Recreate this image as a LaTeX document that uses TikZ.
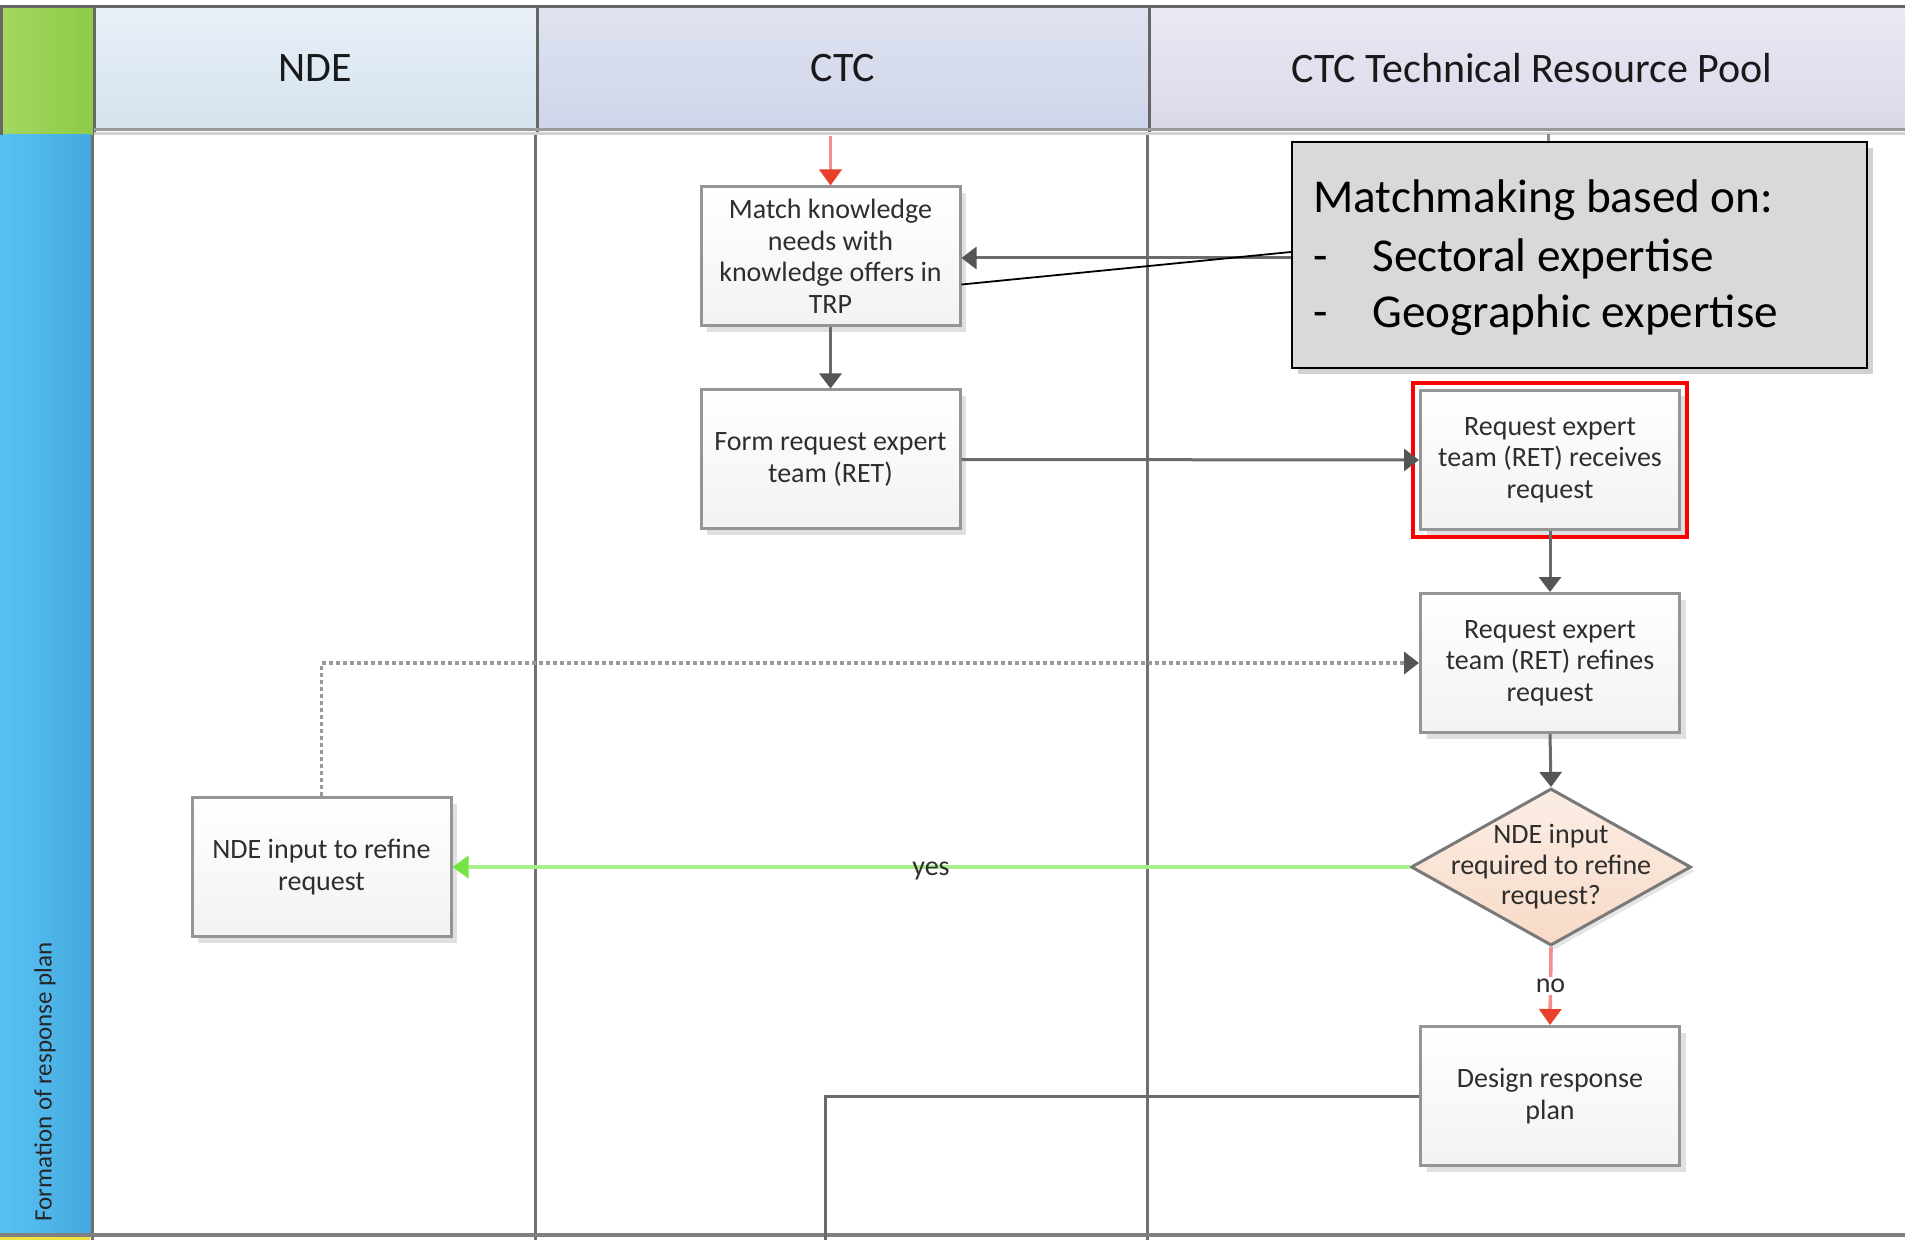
\documentclass[tikz,border=0pt]{standalone}
\usepackage{fontspec}
\setmainfont{Carlito}
\usetikzlibrary{arrows.meta,shapes.geometric,shadows,calc}
\definecolor{hdrline}{HTML}{666666}
\definecolor{laneline}{HTML}{707070}
\definecolor{boxgray}{HTML}{959595}
\definecolor{conngray}{HTML}{6A6A6A}
\definecolor{tipgray}{HTML}{555555}
\definecolor{redline}{HTML}{F29090}
\definecolor{redtip}{HTML}{E8402A}
\definecolor{greenline}{HTML}{A8EE8C}
\definecolor{greentip}{HTML}{74E444}
\definecolor{txtcol}{HTML}{2E2E2E}
\definecolor{peachtop}{HTML}{FBEEE5}
\definecolor{peachbot}{HTML}{F8DAC6}
\definecolor{greenA}{HTML}{A4D760}
\definecolor{greenB}{HTML}{8ECB46}
\definecolor{ndeA}{HTML}{E9F0F8}
\definecolor{ndeB}{HTML}{D4E2EE}
\definecolor{ctcA}{HTML}{DFE3F1}
\definecolor{ctcB}{HTML}{CFD5E9}
\definecolor{poolA}{HTML}{ECE9F4}
\definecolor{poolB}{HTML}{DAD7E9}
\definecolor{blueA}{HTML}{58C2F2}
\definecolor{blueB}{HTML}{45A9DF}
\definecolor{yell}{HTML}{F0E245}
\begin{document}
\begin{tikzpicture}[x=0.5pt,y=-0.5pt,
  procbox/.style={draw=boxgray, line width=1.5pt, top color=white, bottom color=black!5,
    minimum width=129.5pt, minimum height=69.5pt, align=center, inner sep=2pt,
    font=\fontsize{14}{15.75}\selectfont, text=txtcol,
    drop shadow={shadow xshift=3pt, shadow yshift=-3pt, fill=black!12, opacity=1}},
  decision/.style={diamond, draw=conngray!90, line width=1.5pt, top color=peachtop, bottom color=peachbot,
    minimum width=140pt, minimum height=78.5pt, inner sep=0pt,
    drop shadow={shadow xshift=2pt, shadow yshift=-2pt, fill=black!10, opacity=1}},
  dectext/.style={align=center, font=\fontsize{14}{15.3}\selectfont, text=txtcol},
  callout/.style={draw=black, line width=1.2pt, fill=black!15, minimum width=287.5pt, minimum height=113pt,
    drop shadow={shadow xshift=3pt, shadow yshift=-3pt, fill=black!18, opacity=1}},
  calltext/.style={anchor=base west, font=\fontsize{23.6}{28}\selectfont, text=black, inner sep=0pt},
  hdrtext/.style={font=\fontsize{21}{24}\selectfont, text=black!90},
  conn/.style={draw=conngray, line width=1.5pt, -{Triangle[width=11pt,length=7.5pt,color=tipgray]}},
  redconn/.style={draw=redline, line width=1.8pt, -{Triangle[width=11pt,length=8pt,color=redtip]}},
  greenconn/.style={draw=greenline, line width=2.2pt, -{Triangle[width=11pt,length=8pt,color=greentip]}},
  dotconn/.style={draw=black!40, line width=1.8pt, dash pattern=on 2pt off 1.5pt, -{Triangle[width=11pt,length=7.5pt,color=tipgray]}},
  lbl/.style={font=\fontsize{14}{16}\selectfont, text=txtcol, inner sep=1pt}
]
\useasboundingbox (0,0) rectangle (1905,1240);
\fill[white] (0,0) rectangle (1905,1240);

% header cells
\fill[left color=greenA, right color=greenB] (0,7) rectangle (94,135);
\fill[top color=ndeA, bottom color=ndeB] (94,7) rectangle (537,130);
\fill[top color=ctcA, bottom color=ctcB] (537,7) rectangle (1149,130);
\fill[top color=poolA, bottom color=poolB] (1149,7) rectangle (1905,130);
% swimlane band
\fill[left color=blueA, right color=blueB] (0,135) rectangle (91,1233);
\fill[yell] (0,1237) rectangle (90,1240);

% header lines
\draw[hdrline, line width=1.5pt] (0,7) -- (1905,7);
\draw[hdrline, line width=1.5pt] (1.5,7) -- (1.5,135);
\draw[hdrline, line width=1.5pt] (94,7) -- (94,135);
\draw[hdrline, line width=1.5pt] (537,7) -- (537,133);
\draw[hdrline, line width=1.5pt] (1149,7) -- (1149,133);
\draw[black!40, line width=1.5pt] (94,130) -- (1905,130);
\draw[black!18, line width=1.2pt] (94,133.5) -- (1905,133.5);

% lane lines
\draw[laneline, line width=1.5pt] (92,135) -- (92,1240);
\draw[laneline, line width=1.5pt] (535,135) -- (535,1240);
\draw[laneline, line width=1.5pt] (1147,135) -- (1147,1240);
\draw[black!50, line width=1.6pt] (0,1235) -- (1905,1235);

% header texts
\node[hdrtext] (hnde) at (315,68) {NDE};
\node[hdrtext] (hctc) at (843,68) {CTC};
\node[hdrtext] (hpool) at (1532,68) {CTC Technical Resource Pool};
\node[rotate=90, font=\fontsize{12.5}{14}\selectfont, text=black!85] (lanelbl) at (45,1082) {Formation of response plan};

% process nodes
\node[procbox] (match) at (830.5,256.5) {Match knowledge\\needs with\\knowledge offers in\\TRP};
\node[procbox] (form) at (830.5,459.5) {Form request expert\\team (RET)};
\node[procbox] (recv) at (1550,460) {Request expert\\team (RET) receives\\request};
\draw[red, line width=2pt] ($(recv.south west)+(-6,6)$) rectangle ($(recv.north east)+(6,-6)$);
\node[procbox] (refine) at (1550,663) {Request expert\\team (RET) refines\\request};
\node[decision] (dec) at (1551,867) {};
\node[dectext] (dectxt) at (dec) {NDE input\\required to refine\\request?};
\node[procbox] (design) at (1550,1096) {Design response\\plan};
\node[procbox] (nde) at (321.5,867) {NDE input to refine\\request};

% callout
\node[callout] (call) at (1579.5,255) {};
\node[calltext] (c1) at (1313,213) {Matchmaking based on:};
\node[calltext] (c2a) at (1313,272) {-};
\node[calltext] (c2) at (1372,272) {Sectoral expertise};
\node[calltext] (c3a) at (1313,328) {-};
\node[calltext] (c3) at (1372,328) {Geographic expertise};

% connectors
\coordinate (rtop) at (830.5,136);
\draw[redconn] (rtop) -- (match.north);
\draw[conn] (match.south) -- (form.north);
\draw[conn] ($(call.west)+(0,3)$) -- ($(call.west -| match.east)+(0,3)$);
\draw[black, line width=0.9pt] ($(call.west)+(0,-3)$) -- ($(match.east)+(0,28)$);
\coordinate (tick) at (1548,134);
\draw[black!45, line width=1.5pt] (tick) -- (tick |- call.north);
\draw[conn] (form.east) -- (recv.west);
\draw[conn] (recv.south) -- (refine.north);
\draw[conn] (refine.south) -- (dec.north);
\draw[redconn] (dec.south) -- node[lbl, fill=white] {no} (design.north);
\draw[greenconn] (dec.west) -- node[lbl, yshift=-2pt] {yes} (nde.east);
\draw[dotconn] (nde.north) |- (refine.west);
\coordinate (dbot) at (825,1240);
\draw[conngray, line width=1.5pt] (design.west) -| (dbot);
\end{tikzpicture}
\end{document}
